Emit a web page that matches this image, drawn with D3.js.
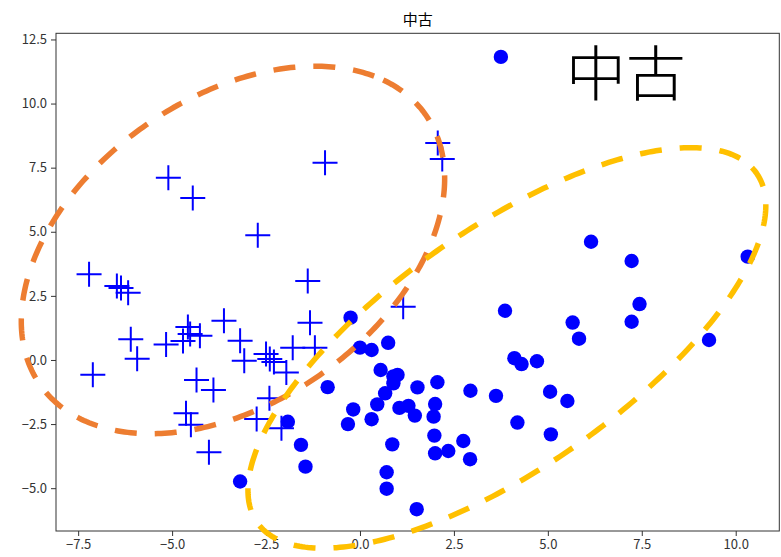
<!DOCTYPE html>
<html>
<head>
<meta charset="utf-8">
<script src="https://cdn.jsdelivr.net/npm/d3@7"></script>
<style>
  body { margin: 0; background: #fff; }
  svg { display: block; font-family: "Noto Sans CJK JP", "Noto Sans", sans-serif; }
</style>
</head>
<body>
<div id="main"></div>
<script>
// class A points (+ markers)
var crossX = [-5.10, -4.45, -2.72, -0.93, -7.21, -6.47, -6.36, -6.17, -6.10, -5.93, -7.11, -5.16, -4.58, -4.52, -4.26, -4.71, -3.62, -3.19, -3.08, -4.35, -3.90, -4.63, -4.50, -4.02, -2.75, -1.39, -1.33, -2.50, -2.40, -2.29, -1.96, -1.79, -1.20, -2.41, -2.09, 1.15, 2.07, 2.19];
var crossY = [7.11, 6.32, 4.86, 7.69, 3.34, 2.88, 2.81, 2.62, 0.81, 0.05, -0.58, 0.60, 1.29, 1.01, 0.94, 0.74, 1.53, 0.75, -0.03, -0.78, -1.17, -2.08, -2.53, -3.60, -2.30, 3.08, 1.45, 0.23, 0.04, -0.08, -0.49, 0.48, 0.48, -1.49, -2.66, 2.08, 8.46, 7.84];

// class B points (filled circles)
var dotX = [3.75, 6.15, 7.23, 10.32, 3.86, 5.66, 7.44, 7.23, 5.83, 9.29, 4.11, 4.30, 4.71, 5.06, 5.52, 3.62, 4.19, 5.08, 2.94, 2.06, 1.53, 0.75, -0.25, 0.00, 0.31, 0.55, 0.89, 1.00, 0.89, -0.86, 0.67, 0.46, 1.05, 1.29, 1.46, 2.00, 1.96, -0.18, -0.32, 0.31, 1.98, 0.86, 2.75, 2.00, 2.35, 2.93, 0.71, 0.71, 1.51, -1.92, -1.57, -1.45, -3.19];
var dotY = [11.82, 4.61, 3.86, 4.03, 1.92, 1.46, 2.18, 1.49, 0.83, 0.78, 0.07, -0.16, -0.05, -1.24, -1.60, -1.40, -2.44, -2.90, -1.20, -0.87, -1.07, 0.67, 1.65, 0.48, 0.39, -0.39, -0.64, -0.58, -0.91, -1.06, -1.30, -1.73, -1.87, -1.79, -2.17, -1.72, -2.21, -1.93, -2.50, -2.31, -2.95, -3.29, -3.16, -3.64, -3.55, -3.87, -4.38, -5.02, -5.82, -2.41, -3.31, -4.16, -4.74];

// ellipses (data units): center, full width, full height, angle in degrees
var ellipseCx = [-3.38, 3.91];
var ellipseCy = [4.29, 0.47];
var ellipseW = [15.5, 19.3];
var ellipseH = [9.6, 7.84];
var ellipseAngle = [61, 50];

var xTicks = [-7.5, -5.0, -2.5, 0.0, 2.5, 5.0, 7.5, 10.0];
var yTicks = [-5.0, -2.5, 0.0, 2.5, 5.0, 7.5, 10.0, 12.5];
var titleText = "中古";
var bigLabel = "中古";
var bigLabelPos = [5.48, 10.29];

var ellipseColors = ["#ED7D31", "#FFC000"];

var margin = {top: 33.3, right: 1.7, bottom: 26, left: 56},
  fullW = 781, fullH = 557,
  width = fullW - margin.left - margin.right,
  height = fullH - margin.top - margin.bottom;

var x = d3.scaleLinear().domain([-8.09, 11.16]).range([0, width]);
var y = d3.scaleLinear().domain([-6.67, 12.74]).range([height, 0]);

var svg = d3.select("#main").append("svg")
  .attr("width", fullW)
  .attr("height", fullH)
  .append("g")
  .attr("transform", "translate(" + margin.left + "," + margin.top + ")");

var fmt = d3.format(".1f");

var xAxis = svg.append("g")
  .attr("transform", "translate(0," + height + ")")
  .call(d3.axisBottom(x).tickValues(xTicks).tickFormat(fmt).tickSize(5).tickPadding(4));
var yAxis = svg.append("g")
  .call(d3.axisLeft(y).tickValues(yTicks).tickFormat(fmt).tickSize(5).tickPadding(4));

[xAxis, yAxis].forEach(function(a) {
  a.select(".domain").remove();
  a.selectAll("line").attr("stroke", "#333").attr("stroke-width", 1);
  a.selectAll("text")
    .attr("fill", "#333")
    .style("font-size", "13px")
    .style("font-family", "\"Noto Sans CJK JP\", sans-serif");
});

// frame
svg.append("rect")
  .attr("x", 0).attr("y", 0)
  .attr("width", width).attr("height", height)
  .attr("fill", "none")
  .attr("stroke", "#333")
  .attr("stroke-width", 1);

// title
svg.append("text")
  .attr("x", width / 2)
  .attr("y", -8)
  .attr("text-anchor", "middle")
  .style("font-size", "15px")
  .attr("fill", "#000")
  .text(titleText);

// big label inside the plot
svg.append("text")
  .attr("x", x(bigLabelPos[0]))
  .attr("y", y(bigLabelPos[1]))
  .style("font-size", "60px")
  .style("font-weight", "300")
  .attr("fill", "#000")
  .text(bigLabel);

var crossPts = crossX.map(function(d, i) { return {x: d, y: crossY[i]}; });
var dotPts = dotX.map(function(d, i) { return {x: d, y: dotY[i]}; });

svg.selectAll(".cross")
  .data(crossPts)
  .enter().append("path")
  .attr("class", "cross")
  .attr("transform", function(d) {
    return "translate(" + x(d.x) + "," + y(d.y) + ")";
  })
  .attr("d", "M-12.5,0H12.5M0,-12.5V12.5")
  .attr("stroke", "#0000ff")
  .attr("stroke-width", 2)
  .attr("fill", "none");

svg.selectAll(".dot")
  .data(dotPts)
  .enter().append("circle")
  .attr("class", "dot")
  .attr("cx", function(d) { return x(d.x); })
  .attr("cy", function(d) { return y(d.y); })
  .attr("r", 7.2)
  .attr("fill", "#0000ff");

// ellipses drawn in data space, then through the scales
var line = d3.line()
  .x(function(d) { return x(d[0]); })
  .y(function(d) { return y(d[1]); })
  .curve(d3.curveLinearClosed);

ellipseCx.forEach(function(cx, i) {
  var a = ellipseW[i] / 2, b = ellipseH[i] / 2;
  var th = ellipseAngle[i] * Math.PI / 180;
  var pts = d3.range(0, 360, 1).map(function(deg) {
    var t = deg * Math.PI / 180;
    var ex = a * Math.cos(t), ey = b * Math.sin(t);
    return [cx + ex * Math.cos(th) - ey * Math.sin(th),
            ellipseCy[i] + ex * Math.sin(th) + ey * Math.cos(th)];
  });
  svg.append("path")
    .attr("d", line(pts))
    .attr("fill", "none")
    .attr("stroke", ellipseColors[i])
    .attr("stroke-width", 5.5)
    .attr("stroke-dasharray", "22,18");
});
</script>
</body>
</html>
